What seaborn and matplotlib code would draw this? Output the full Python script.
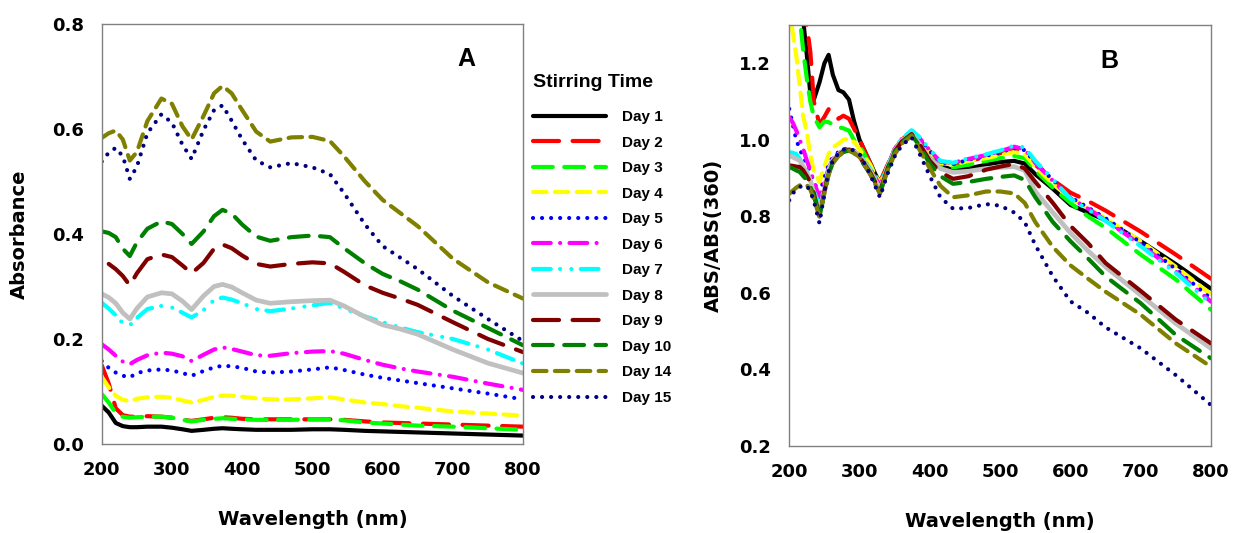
import numpy as np
import pandas as pd
import matplotlib
matplotlib.use("Agg")
import matplotlib.pyplot as plt
import seaborn as sns

# ---------------- data ----------------
DAYS = ["Day 1", "Day 2", "Day 3", "Day 4", "Day 5", "Day 6",
        "Day 7", "Day 8", "Day 9", "Day 10", "Day 14", "Day 15"]

COLORS = ["#000000", "#FF0000", "#00FF00", "#FFFF00", "#0000FF", "#FF00FF",
          "#00FFFF", "#C0C0C0", "#800000", "#008000", "#808000", "#000080"]

# Panel A: absorbance
WL_A = [200, 210, 220, 230, 240, 250, 265, 285, 300, 315, 328, 345, 360, 372,
        385, 400, 420, 440, 470, 500, 525, 545, 575, 600, 625, 650, 700, 750, 800]

A_DAY1 = [0.073, 0.060, 0.040, 0.034, 0.032, 0.032, 0.033, 0.033, 0.031, 0.028, 0.025, 0.027, 0.029, 0.030,
          0.029, 0.028, 0.027, 0.027, 0.027, 0.028, 0.028, 0.027, 0.025, 0.024, 0.023, 0.022, 0.020, 0.018, 0.016]
A_DAY2 = [0.150, 0.115, 0.068, 0.055, 0.052, 0.052, 0.053, 0.052, 0.050, 0.046, 0.044, 0.047, 0.050, 0.051,
          0.050, 0.048, 0.047, 0.047, 0.047, 0.047, 0.047, 0.046, 0.043, 0.041, 0.040, 0.039, 0.037, 0.035, 0.033]
A_DAY3 = [0.095, 0.079, 0.059, 0.052, 0.050, 0.051, 0.052, 0.052, 0.050, 0.046, 0.043, 0.046, 0.048, 0.049,
          0.048, 0.047, 0.046, 0.046, 0.046, 0.047, 0.047, 0.045, 0.041, 0.039, 0.037, 0.035, 0.033, 0.030, 0.027]
A_DAY4 = [0.128, 0.108, 0.092, 0.084, 0.082, 0.086, 0.089, 0.090, 0.088, 0.083, 0.079, 0.084, 0.090, 0.092,
          0.092, 0.090, 0.087, 0.085, 0.085, 0.087, 0.089, 0.085, 0.079, 0.076, 0.072, 0.069, 0.062, 0.058, 0.054]
A_DAY5 = [0.158, 0.145, 0.136, 0.130, 0.127, 0.135, 0.140, 0.142, 0.140, 0.135, 0.130, 0.139, 0.146, 0.149,
          0.148, 0.145, 0.138, 0.136, 0.138, 0.142, 0.146, 0.141, 0.132, 0.126, 0.121, 0.116, 0.106, 0.096, 0.085]
A_DAY6 = [0.190, 0.180, 0.168, 0.157, 0.152, 0.160, 0.169, 0.174, 0.172, 0.167, 0.158, 0.170, 0.180, 0.184,
          0.181, 0.176, 0.169, 0.168, 0.173, 0.176, 0.177, 0.172, 0.160, 0.151, 0.144, 0.138, 0.128, 0.115, 0.103]
A_DAY7 = [0.269, 0.258, 0.245, 0.230, 0.226, 0.240, 0.257, 0.263, 0.260, 0.250, 0.241, 0.255, 0.274, 0.279,
          0.275, 0.268, 0.257, 0.253, 0.258, 0.264, 0.269, 0.258, 0.243, 0.232, 0.222, 0.213, 0.200, 0.180, 0.153]
A_DAY8 = [0.286, 0.279, 0.268, 0.250, 0.238, 0.258, 0.280, 0.288, 0.286, 0.272, 0.256, 0.282, 0.300, 0.304,
          0.299, 0.288, 0.274, 0.268, 0.271, 0.273, 0.274, 0.263, 0.242, 0.227, 0.219, 0.209, 0.180, 0.154, 0.135]
A_DAY9 = [np.nan, 0.343, 0.333, 0.320, 0.302, 0.325, 0.352, 0.361, 0.356, 0.340, 0.325, 0.345, 0.372, 0.380,
          0.373, 0.359, 0.343, 0.338, 0.343, 0.346, 0.344, 0.328, 0.302, 0.288, 0.277, 0.265, 0.232, 0.200, 0.175]
A_DAY10 = [0.405, 0.402, 0.394, 0.372, 0.358, 0.384, 0.410, 0.424, 0.419, 0.400, 0.381, 0.405, 0.434, 0.446,
           0.439, 0.418, 0.395, 0.387, 0.394, 0.397, 0.394, 0.373, 0.344, 0.324, 0.310, 0.294, 0.254, 0.221, 0.188]
A_DAY14 = [0.583, 0.592, 0.597, 0.580, 0.540, 0.556, 0.615, 0.658, 0.648, 0.605, 0.580, 0.625, 0.668, 0.682,
           0.668, 0.636, 0.595, 0.576, 0.584, 0.585, 0.577, 0.548, 0.500, 0.465, 0.440, 0.415, 0.353, 0.308, 0.277]
A_DAY15 = [0.538, 0.555, 0.564, 0.548, 0.505, 0.528, 0.592, 0.628, 0.612, 0.570, 0.543, 0.598, 0.636, 0.645,
           0.616, 0.580, 0.540, 0.527, 0.535, 0.527, 0.514, 0.478, 0.418, 0.377, 0.355, 0.333, 0.282, 0.238, 0.196]

# Panel B: ABS / ABS(360)
WL_B = [200, 205, 210, 215, 220, 225, 230, 235, 243, 250, 256, 262, 270, 277, 285, 292, 300, 315, 329, 340,
        350, 360, 374, 385, 400, 415, 433, 455, 480, 500, 520, 535, 550, 575, 600, 625, 650, 700, 750, 800]

B_DAY1 = [1.60, 1.52, 1.45, 1.38, 1.31, 1.222, 1.12, 1.105, 1.15, 1.20, 1.222, 1.17, 1.13, 1.124, 1.105, 1.05, 1.00, 0.94, 0.885, 0.93,
          0.975, 1.00, 1.015, 1.00, 0.962, 0.935, 0.92, 0.925, 0.935, 0.942, 0.945, 0.938, 0.91, 0.872, 0.830, 0.810, 0.790, 0.735, 0.675, 0.611]
B_DAY2 = [1.75, 1.65, 1.55, 1.45, 1.36, 1.30, 1.23, 1.10, 1.04, 1.06, 1.08, 1.065, 1.055, 1.063, 1.055, 1.03, 1.00, 0.94, 0.89, 0.935,
          0.975, 1.00, 1.02, 1.00, 0.97, 0.94, 0.935, 0.945, 0.955, 0.965, 0.975, 0.970, 0.935, 0.895, 0.862, 0.840, 0.815, 0.760, 0.700, 0.637]
B_DAY3 = [1.55, 1.48, 1.40, 1.32, 1.23, 1.16, 1.10, 1.06, 1.033, 1.048, 1.046, 1.04, 1.033, 1.03, 1.024, 1.00, 0.985, 0.935, 0.885, 0.93,
          0.975, 1.00, 1.018, 1.00, 0.965, 0.935, 0.928, 0.935, 0.945, 0.952, 0.958, 0.952, 0.92, 0.875, 0.835, 0.800, 0.770, 0.700, 0.635, 0.556]
B_DAY4 = [1.35, 1.28, 1.22, 1.14, 1.06, 1.02, 0.96, 0.92, 0.89, 0.93, 0.963, 0.98, 0.99, 1.00, 1.003, 0.995, 0.975, 0.935, 0.885, 0.93,
          0.975, 1.00, 1.02, 1.003, 0.968, 0.94, 0.935, 0.945, 0.952, 0.96, 0.968, 0.962, 0.93, 0.885, 0.848, 0.822, 0.795, 0.735, 0.668, 0.596]
B_DAY5 = [1.081, 1.04, 1.00, 0.975, 0.955, 0.937, 0.915, 0.89, 0.86, 0.90, 0.935, 0.955, 0.968, 0.975, 0.978, 0.972, 0.962, 0.925, 0.88, 0.93,
          0.975, 1.00, 1.02, 1.003, 0.97, 0.942, 0.936, 0.948, 0.958, 0.968, 0.978, 0.973, 0.94, 0.895, 0.850, 0.823, 0.795, 0.732, 0.662, 0.585]
B_DAY6 = [1.059, 1.045, 1.024, 1.00, 0.975, 0.946, 0.92, 0.89, 0.85, 0.89, 0.925, 0.95, 0.965, 0.972, 0.975, 0.97, 0.96, 0.925, 0.88, 0.93,
          0.976, 1.002, 1.022, 1.005, 0.972, 0.943, 0.94, 0.95, 0.96, 0.97, 0.982, 0.975, 0.94, 0.893, 0.848, 0.820, 0.790, 0.726, 0.656, 0.577]
B_DAY7 = [0.968, 0.966, 0.963, 0.95, 0.935, 0.92, 0.895, 0.865, 0.83, 0.875, 0.92, 0.948, 0.965, 0.972, 0.975, 0.97, 0.96, 0.925, 0.878, 0.93,
          0.978, 1.003, 1.025, 1.008, 0.975, 0.945, 0.94, 0.952, 0.962, 0.972, 0.985, 0.98, 0.945, 0.897, 0.846, 0.818, 0.788, 0.722, 0.652, 0.572]
B_DAY8 = [0.959, 0.955, 0.95, 0.946, 0.93, 0.915, 0.895, 0.86, 0.81, 0.87, 0.92, 0.945, 0.962, 0.972, 0.975, 0.97, 0.958, 0.92, 0.87, 0.925,
          0.972, 0.998, 1.016, 0.99, 0.95, 0.925, 0.915, 0.918, 0.925, 0.928, 0.93, 0.92, 0.865, 0.810, 0.757, 0.710, 0.668, 0.594, 0.520, 0.455]
B_DAY9 = [0.933, 0.932, 0.93, 0.929, 0.92, 0.905, 0.89, 0.86, 0.80, 0.865, 0.915, 0.943, 0.96, 0.97, 0.974, 0.968, 0.955, 0.915, 0.865, 0.925,
          0.97, 0.995, 1.015, 0.99, 0.945, 0.915, 0.898, 0.905, 0.922, 0.93, 0.937, 0.925, 0.89, 0.835, 0.775, 0.730, 0.678, 0.605, 0.530, 0.468]
B_DAY10 = [0.929, 0.925, 0.92, 0.916, 0.905, 0.895, 0.877, 0.855, 0.80, 0.86, 0.91, 0.94, 0.958, 0.968, 0.972, 0.966, 0.952, 0.912, 0.86, 0.922,
           0.968, 0.993, 1.013, 0.985, 0.937, 0.905, 0.885, 0.89, 0.898, 0.903, 0.907, 0.895, 0.85, 0.785, 0.735, 0.690, 0.643, 0.573, 0.490, 0.429]
B_DAY14 = [0.859, 0.867, 0.875, 0.881, 0.884, 0.882, 0.87, 0.845, 0.80, 0.86, 0.91, 0.938, 0.958, 0.968, 0.972, 0.966, 0.955, 0.91, 0.86, 0.92,
           0.962, 0.99, 1.01, 0.975, 0.925, 0.88, 0.85, 0.855, 0.865, 0.865, 0.86, 0.835, 0.785, 0.720, 0.672, 0.637, 0.603, 0.543, 0.468, 0.407]
B_DAY15 = [0.842, 0.86, 0.87, 0.877, 0.88, 0.88, 0.865, 0.84, 0.782, 0.86, 0.918, 0.945, 0.965, 0.975, 0.977, 0.972, 0.963, 0.91, 0.85, 0.912,
           0.957, 0.985, 1.007, 0.965, 0.905, 0.85, 0.82, 0.822, 0.832, 0.828, 0.81, 0.785, 0.725, 0.643, 0.578, 0.548, 0.510, 0.455, 0.385, 0.307]

A_SERIES = [A_DAY1, A_DAY2, A_DAY3, A_DAY4, A_DAY5, A_DAY6, A_DAY7, A_DAY8, A_DAY9, A_DAY10, A_DAY14, A_DAY15]
B_SERIES = [B_DAY1, B_DAY2, B_DAY3, B_DAY4, B_DAY5, B_DAY6, B_DAY7, B_DAY8, B_DAY9, B_DAY10, B_DAY14, B_DAY15]

# ---------------- styles ----------------
D_LONG = (0, (6.25, 3.25))
D_MED = (0, (4.75, 2.75))
D_SHORT = (0, (3.25, 2.0))
D_DOT = (0, (0.01, 2.16))
D_DASHDOT = (0, (4.25, 2.25, 0.01, 2.25))
D_DASHDOTDOT = (0, (4.25, 2.25, 0.01, 2.7, 0.01, 2.25))
STYLES = ["-", D_LONG, D_MED, D_SHORT, D_DOT, D_DASHDOT, D_DASHDOTDOT, "-", D_LONG, D_MED, D_SHORT, D_DOT]
WIDTHS = [3.0, 3.0, 3.0, 3.0, 3.0, 3.0, 3.0, 3.4, 3.0, 3.0, 3.0, 3.0]

sns.set_theme(style="white")
plt.rcParams["font.family"] = ["DejaVu Sans"]
plt.rcParams["font.weight"] = "bold"
plt.rcParams["axes.labelweight"] = "bold"
plt.rcParams["text.color"] = "black"
plt.rcParams["axes.labelcolor"] = "black"
plt.rcParams["xtick.color"] = "black"
plt.rcParams["ytick.color"] = "black"

fig = plt.figure(figsize=(12.33, 5.33), dpi=100)
axA = fig.add_axes([0.0825, 0.167, 0.3417, 0.788])
axB = fig.add_axes([0.6401, 0.1632, 0.3421, 0.7899])

handles = []
for i, day in enumerate(DAYS):
    dfa = pd.DataFrame({"wl": WL_A, "val": A_SERIES[i]}).dropna()
    sns.lineplot(data=dfa, x="wl", y="val", ax=axA, color=COLORS[i], linestyle=STYLES[i],
                 linewidth=WIDTHS[i], dash_capstyle="round", solid_capstyle="round", estimator=None)
    handles.append(axA.get_lines()[-1])
    dfb = pd.DataFrame({"wl": WL_B, "val": B_SERIES[i]})
    sns.lineplot(data=dfb, x="wl", y="val", ax=axB, color=COLORS[i], linestyle=STYLES[i],
                 linewidth=WIDTHS[i], dash_capstyle="round", solid_capstyle="round", estimator=None)

GREY = "#808080"
for ax in (axA, axB):
    ax.set_xlim(200, 800)
    ax.set_xticks([200, 300, 400, 500, 600, 700, 800])
    for sp in ax.spines.values():
        sp.set_color(GREY)
        sp.set_linewidth(1.0)
        sp.set_visible(True)
    ax.tick_params(axis="both", direction="out", length=4.5, width=1.0, color=GREY,
                   labelsize=13, labelcolor="black")
    ax.tick_params(axis="x", pad=7.5)
    ax.tick_params(axis="y", pad=8.5)
    for lab in ax.get_xticklabels() + ax.get_yticklabels():
        lab.set_fontweight("bold")
    ax.set_xlabel("Wavelength (nm)", fontsize=14, fontweight="bold", color="black")
    ax.xaxis.set_label_coords(0.5, -0.157)
    ax.grid(False)

axA.set_ylim(0, 0.8)
axA.set_yticks([0.0, 0.2, 0.4, 0.6, 0.8])
axA.set_yticklabels(["0.0", "0.2", "0.4", "0.6", "0.8"])
axA.set_ylabel("Absorbance", fontsize=14, fontweight="bold", color="black")
axA.yaxis.set_label_coords(-0.174, 0.5)

axB.set_ylim(0.2, 1.3)
axB.set_yticks([0.2, 0.4, 0.6, 0.8, 1.0, 1.2])
axB.set_yticklabels(["0.2", "0.4", "0.6", "0.8", "1.0", "1.2"])
axB.set_ylabel("ABS/ABS(360)", fontsize=14, fontweight="bold", color="black")
axB.yaxis.set_label_coords(-0.158, 0.5)

axA.text(718.8, 0.733, "A", ha="center", va="center", fontsize=18, fontweight="bold",
         color="black", family=["Liberation Sans", "DejaVu Sans"])
axB.text(655.9, 1.207, "B", ha="center", va="center", fontsize=18, fontweight="bold",
         color="black", family=["Liberation Sans", "DejaVu Sans"])

leg = fig.legend(handles, DAYS, loc="upper left", bbox_to_anchor=(0.4323, 0.862),
                 bbox_transform=fig.transFigure, frameon=False, title="Stirring Time",
                 alignment="left", borderpad=0, borderaxespad=0, handlelength=4.8,
                 handletextpad=1.05, labelspacing=0.755,
                 prop={"family": ["Liberation Sans", "DejaVu Sans"], "weight": "bold", "size": 11},
                 title_fontproperties={"family": ["Liberation Sans", "DejaVu Sans"], "weight": "bold", "size": 14})
leg._legend_box.sep = 14
for t in leg.get_texts():
    t.set_color("black")
leg.get_title().set_color("black")

fig.savefig("out.png", dpi=100)
